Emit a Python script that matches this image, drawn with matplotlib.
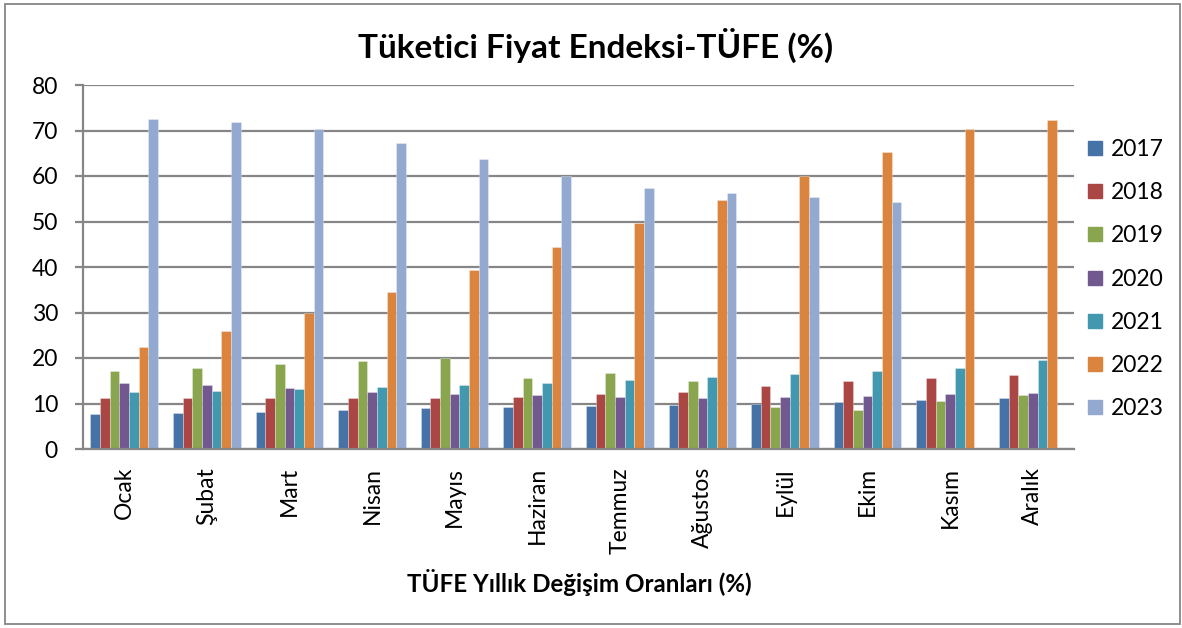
import matplotlib
matplotlib.use("Agg")
import matplotlib.pyplot as plt
from matplotlib.patches import Rectangle
from matplotlib.lines import Line2D
import numpy as np

plt.rcParams['font.family'] = ['Lato', 'DejaVu Sans']

months = ["Ocak", "Şubat", "Mart", "Nisan", "Mayıs", "Haziran", "Temmuz",
          "Ağustos", "Eylül", "Ekim", "Kasım", "Aralık"]
years = ["2017", "2018", "2019", "2020", "2021", "2022", "2023"]

v2017 = [7.8, 7.9, 8.2, 8.6, 9.1, 9.3, 9.45, 9.7, 10.0, 10.3, 10.8, 11.1]
v2018 = [11.1, 11.1, 11.1, 11.1, 11.1, 11.5, 12.0, 12.6, 13.8, 14.9, 15.6, 16.3]
v2019 = [17.1, 17.9, 18.7, 19.3, 19.9, 15.7, 16.6, 15.0, 9.2, 8.6, 10.5, 11.9]
v2020 = [14.5, 14.0, 13.3, 12.6, 12.1, 11.9, 11.5, 11.3, 11.4, 11.7, 12.1, 12.2]
v2021 = [12.5, 12.7, 13.2, 13.6, 14.1, 14.5, 15.2, 15.8, 16.4, 17.1, 17.7, 19.6]
v2022 = [22.5, 25.9, 29.8, 34.4, 39.3, 44.5, 49.6, 54.7, 59.9, 65.3, 70.3, 72.3]
v2023 = [72.5, 71.8, 70.3, 67.2, 63.7, 60.0, 57.4, 56.3, 55.3, 54.2, np.nan, np.nan]

series = [v2017, v2018, v2019, v2020, v2021, v2022, v2023]
colors = ["#4572A7", "#AA4643", "#89A54E", "#71588F", "#4198AF", "#DB843D", "#93A9CF"]

W, H = 1182, 628
fig = plt.figure(figsize=(W / 100, H / 100), dpi=100)
fig.patch.set_facecolor("white")

# outer chart border
fig.add_artist(Rectangle((5 / W, 4 / H), 1175 / W, 620 / H, transform=fig.transFigure,
                         fill=False, edgecolor="#868686", linewidth=1.3))

ax = fig.add_axes([83 / W, (H - 449) / H, 991 / W, 364 / H])
grid_c = "#868686"

x = np.arange(len(months))
bw = 0.117
for i, (vals, c) in enumerate(zip(series, colors)):
    ax.bar(x + (i - 3) * bw, vals, width=bw, color=c, edgecolor=(1, 1, 1, 0.35),
           linewidth=0.6, zorder=3, label=years[i])

ax.set_xlim(-0.5, len(months) - 0.5)
ax.set_ylim(0, 80)
ax.set_yticks(np.arange(0, 81, 10))
ax.yaxis.grid(True, color=grid_c, linewidth=1.6, zorder=0)
ax.set_axisbelow(True)
for s in ["top", "right"]:
    ax.spines[s].set_visible(False)
for s in ["left", "bottom"]:
    ax.spines[s].set_color(grid_c)
    ax.spines[s].set_linewidth(1.6)
    ax.spines[s].set_zorder(4)

ax.set_xticks(x)
ax.set_xticklabels(months, rotation=90, fontsize=16.5, color="black")
ax.tick_params(axis="x", length=0, pad=13)
ax.tick_params(axis="y", length=6, width=1.6, color=grid_c, pad=12, labelsize=16.5,
               labelcolor="black")

fig.text(596 / W, 1 - 45 / H, "Tüketici Fiyat Endeksi-TÜFE (%)", ha="center", va="center",
         fontsize=24, fontweight="bold")
fig.text(579 / W, 1 - 583 / H, "TÜFE Yıllık Değişim Oranları (%)", ha="center", va="center",
         fontsize=17.4, fontweight="bold")

handles = [Line2D([0], [0], marker="s", linestyle="none", markersize=10,
                  markerfacecolor=c, markeredgecolor=c) for c in colors]
fig.legend(handles, years, loc="upper left", bbox_to_anchor=(1086 / W, 1 - 139 / H),
           frameon=False, fontsize=16.5, labelspacing=0.97, handlelength=0.8,
           handletextpad=0.3, borderaxespad=0, borderpad=0)

fig.savefig("out.png", dpi=100)
